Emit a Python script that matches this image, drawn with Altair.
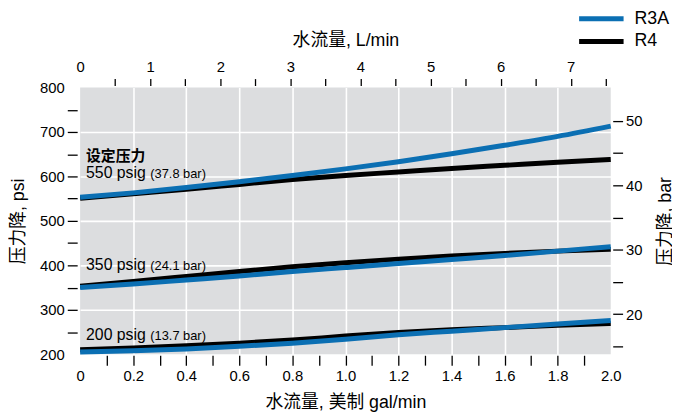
import altair as alt
import pandas as pd

# ---- data ----
gal = [0.0, 0.2, 0.4, 0.6, 0.8, 1.0, 1.2, 1.4, 1.6, 1.8, 2.0]
r3a_550 = [553, 563, 575, 588, 602, 617, 633, 651, 670, 690, 713]
r4_550 = [551, 561, 571, 582, 593, 602, 610, 618, 625, 632, 638]
r3a_350 = [350, 358, 367, 376, 386, 395, 404, 413, 422, 432, 442]
r4_350 = [353, 364, 375, 386, 397, 406, 414, 421, 427, 432, 436]
r3a_200 = [205, 208, 212, 218, 225, 234, 244, 252, 260, 268, 276]
r4_200 = [210, 214, 219, 225, 232, 241, 249, 255, 260, 265, 269]

models = ["R3A", "R4"]
set_labels = ["550 psig", "350 psig", "200 psig"]
bar_labels = ["(37.8 bar)", "(24.1 bar)", "(13.7 bar)"]
label_psi = [596, 390, 232]          # baseline of annotation text, psi
header_label = "设定压力"
header_psi = 635

gal_ticks = [round(i * 0.1, 1) for i in range(21)]
psi_ticks = list(range(200, 801, 50))
lpm_ticks = [i * 0.5 for i in range(16)]
bar_ticks = list(range(15, 51, 5))

GAL_TO_L = 3.78541
PSI_PER_BAR = 14.5038
BLUE = "#0b6fb3"
FONT = "Liberation Sans, Noto Sans CJK SC"

series = {
    ("R4", "550"): r4_550, ("R4", "350"): r4_350, ("R4", "200"): r4_200,
    ("R3A", "550"): r3a_550, ("R3A", "350"): r3a_350, ("R3A", "200"): r3a_200,
}
rows = []
for (m, s), vals in series.items():
    for g, p in zip(gal, vals):
        rows.append({"model": m, "series": m + s, "gal": g, "psi": p})
df = pd.DataFrame(rows)

xs = alt.Scale(domain=[0, 2], nice=False, zero=False)
ys = alt.Scale(domain=[200, 800], nice=False, zero=False)

lines = alt.Chart(df).mark_line(strokeWidth=5, interpolate="monotone").encode(
    x=alt.X("gal:Q", scale=xs, axis=alt.Axis(
        orient="bottom", values=gal_ticks, title="水流量, 美制 gal/min",
        labelExpr="datum.value < 0.01 ? '0' : (round(datum.value*10) % 2 == 0 ? format(datum.value, '.1f') : '')",
        tickOpacity={"condition": {"test": "datum.value < 0.01 || datum.value > 1.99", "value": 0}, "value": 1},
        grid=True,
        gridOpacity={"condition": {"test": "round(datum.value*10) % 2 == 1 || datum.value < 0.01 || datum.value > 1.99", "value": 0}, "value": 1},
        tickSize=10, offset=1, labelPadding=4, titlePadding=10,
        labelFlush=False, labelOverlap=False)),
    y=alt.Y("psi:Q", scale=ys, axis=alt.Axis(
        orient="left", values=psi_ticks, title="压力降, psi",
        labelExpr="datum.value % 100 == 0 ? datum.label : ''",
        tickOpacity={"condition": {"test": "datum.value == 200 || datum.value == 800", "value": 0}, "value": 1},
        grid=True,
        gridOpacity={"condition": {"test": "datum.value % 100 != 0 || datum.value == 200 || datum.value == 800", "value": 0}, "value": 1},
        tickSize=10, offset=3, labelPadding=3, titlePadding=12,
        labelFlush=False, labelOverlap=False)),
    color=alt.Color("model:N", scale=alt.Scale(domain=models, range=[BLUE, "#000000"]),
                    legend=alt.Legend(orient="none", legendX=515, legendY=-82, title=None,
                                      symbolType="M-2.25,0H2.25", symbolStrokeWidth=5, symbolSize=400,
                                      labelFontSize=18, labelFont=FONT, rowPadding=0,
                                      labelOffset=21)),
    detail="series:N",
)

top_df = pd.DataFrame({"L": [0, gal[-1] * GAL_TO_L]})
top_axis = alt.Chart(top_df).mark_point(opacity=0).encode(
    x=alt.X("L:Q", scale=alt.Scale(domain=[0, gal[-1] * GAL_TO_L], nice=False, zero=False),
            axis=alt.Axis(orient="top", values=lpm_ticks, title="水流量, L/min",
                          labelExpr="datum.value % 1 == 0 ? format(datum.value, 'd') : ''",
                          tickOpacity={"condition": {"test": "datum.value < 0.01", "value": 0}, "value": 1},
                          grid=False, tickSize=7, offset=2, labelPadding=4, titlePadding=10,
                          labelFlush=False, labelOverlap=False)),
)

right_df = pd.DataFrame({"bar": [200 / PSI_PER_BAR, 800 / PSI_PER_BAR]})
right_axis = alt.Chart(right_df).mark_point(opacity=0).encode(
    y=alt.Y("bar:Q", scale=alt.Scale(domain=[200 / PSI_PER_BAR, 800 / PSI_PER_BAR], nice=False, zero=False),
            axis=alt.Axis(orient="right", values=bar_ticks, title="压力降, bar",
                          labelExpr="datum.value % 10 == 0 ? format(datum.value, 'd') : ''",
                          grid=False, tickSize=10, offset=2, labelPadding=3,
                          titleAngle=270, titleX=53, titleY=135, titleAlign="center",
                          titleBaseline="middle",
                          labelFlush=False, labelOverlap=False)),
)

lab_df = pd.DataFrame({"gal": [0] * 3, "psi": label_psi, "main": set_labels, "bar": bar_labels})
hdr_df = pd.DataFrame({"gal": [0], "psi": [header_psi], "t": [header_label]})

txt_main = alt.Chart(lab_df).mark_text(align="left", baseline="alphabetic", dx=6, fontSize=16, font=FONT).encode(
    x=alt.X("gal:Q", scale=xs, axis=None), y=alt.Y("psi:Q", scale=ys, axis=None), text="main:N")
txt_bar = alt.Chart(lab_df).mark_text(align="left", baseline="alphabetic", dx=71, fontSize=13, font=FONT).encode(
    x=alt.X("gal:Q", scale=xs, axis=None), y=alt.Y("psi:Q", scale=ys, axis=None), text="bar:N")
txt_hdr = alt.Chart(hdr_df).mark_text(align="left", baseline="alphabetic", dx=6, fontSize=15,
                                      fontWeight="bold", font="Noto Sans CJK SC").encode(
    x=alt.X("gal:Q", scale=xs, axis=None), y=alt.Y("psi:Q", scale=ys, axis=None), text="t:N")

chart = alt.layer(lines, txt_main, txt_bar, txt_hdr, top_axis, right_axis).resolve_scale(
    x="independent", y="independent"
).properties(
    width=537, height=270,
    autosize=alt.AutoSizeParams(type="none"),
    padding={"left": 73, "top": 78, "right": 62, "bottom": 60},
).configure_view(fill="#dcdddf", strokeWidth=0).configure_axis(
    domain=False, labelFont=FONT, labelFontSize=15, labelColor="#000000",
    titleFont=FONT, titleFontSize=18, titleFontWeight="normal", titleColor="#000000",
    tickColor="#000000", tickWidth=1.3, gridColor="#ffffff", gridWidth=1.6,
)

chart.save("out.html", embed_options={"renderer": "svg", "actions": False})
